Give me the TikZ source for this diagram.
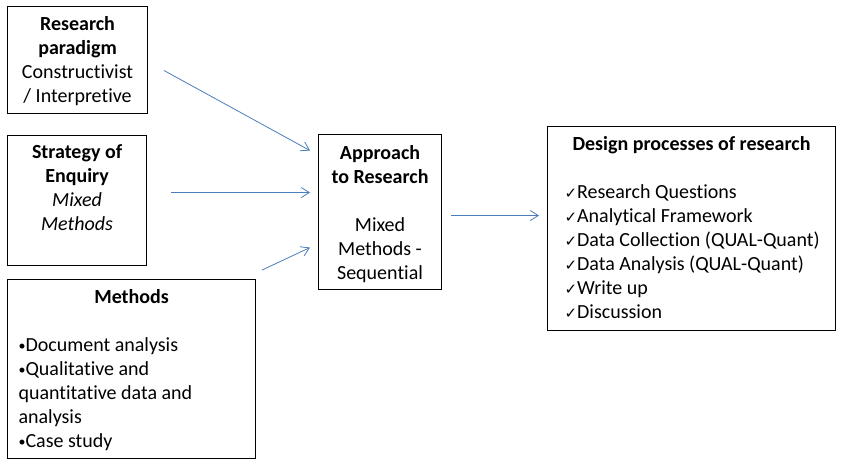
\documentclass[tikz,border=0pt]{standalone}
\usepackage{fontspec}
\setmainfont{Carlito}[Ligatures=NoCommon]
\newfontfamily\symfont{DejaVu Sans}
\usetikzlibrary{arrows.meta}
\definecolor{arrowblue}{RGB}{74,126,187}
\newcommand{\chk}{{\symfont\fontsize{15}{24}\selectfont ✓}}
\newcommand{\bul}{\raisebox{1.5pt}{\fontsize{14}{24}\selectfont •}}
\begin{document}
\begin{tikzpicture}[x=1pt,y=-1pt,
  box/.style={draw=black,line width=1.1pt,inner sep=0pt,anchor=north west,fill=white},
  arr/.style={draw=arrowblue,line width=0.8pt,-{Straight Barb[length=8pt,width=10pt]}}]
\useasboundingbox (0,0) rectangle (841,466);
\node[box] (b1) at (7,6) {\parbox[c][107pt][t]{140pt}{\fontsize{20}{24}\selectfont\centering\vspace*{7.2pt}\strut\textbf{Research}\\\textbf{paradigm}\\Constructivist\\/ Interpretive}};
\node[box] (b2) at (7,135) {\parbox[c][130pt][t]{139pt}{\fontsize{20}{24}\selectfont\centering\vspace*{6pt}\strut\textbf{Strategy of}\\\textbf{Enquiry}\\\textit{Mixed}\\\textit{Methods}}};
\node[box] (b3) at (7,279) {\parbox[c][179pt][t]{248pt}{\fontsize{20}{24}\selectfont\vspace*{7.2pt}{\centering\strut\textbf{Methods}\par}\vspace{24pt}\raggedright\leftskip=11pt \bul Document analysis\\\bul Qualitative and\\quantitative data and\\analysis\\\bul Case study}};
\node[box] (b4) at (318,134) {\parbox[c][155pt][t]{123pt}{\fontsize{20}{24}\selectfont\centering\vspace*{7.8pt}\strut\textbf{Approach}\\\textbf{to Research}\\[24pt]Mixed\\Methods -\\Sequential}};
\node[box] (b5) at (547,126) {\parbox[c][204pt][t]{288pt}{\fontsize{20}{24}\selectfont\vspace*{7.2pt}{\centering\strut\textbf{Design processes of research}\par}\vspace{24pt}\raggedright\leftskip=17pt \chk Research Questions\\\chk Analytical Framework\\\chk Data Collection (QUAL-Quant)\\\chk Data Analysis (QUAL-Quant)\\\chk Write up\\\chk Discussion}};
\draw[arr] ([xshift=16pt,yshift=-10.5pt]b1.east) -- ([xshift=-8pt,yshift=61.5pt]b4.west);
\draw[arr] ([xshift=24pt,yshift=8pt]b2.east) -- ([xshift=-8pt,yshift=19.5pt]b4.west);
\draw[arr] ([xshift=6pt,yshift=9pt]b3.north east) -- ([xshift=-8pt,yshift=-35.5pt]b4.west);
\draw[arr] ([xshift=9pt,yshift=-3.5pt]b4.east) -- ([xshift=-8pt,yshift=13pt]b5.west);
\end{tikzpicture}
\end{document}
